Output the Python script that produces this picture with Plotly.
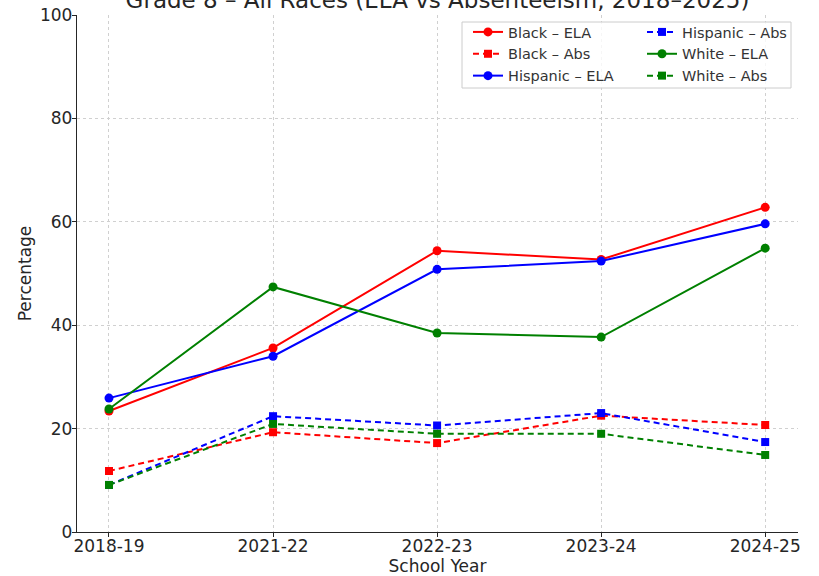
import plotly.graph_objects as go

years = ["2018-19", "2021-22", "2022-23", "2023-24", "2024-25"]
black_ela = [23.4, 35.6, 54.4, 52.7, 62.8]
black_abs = [11.8, 19.3, 17.2, 22.5, 20.7]
hisp_ela = [25.9, 34.0, 50.8, 52.4, 59.6]
hisp_abs = [9.1, 22.4, 20.6, 23.0, 17.4]
white_ela = [23.8, 47.4, 38.5, 37.7, 54.9]
white_abs = [9.1, 20.9, 19.0, 19.0, 14.9]

xi = list(range(len(years)))
FONT = "DejaVu Sans"

series = [
    ("Black – ELA", black_ela, "#ff0000", "solid", "circle", "legend"),
    ("Black – Abs", black_abs, "#ff0000", "dash", "square", "legend"),
    ("Hispanic – ELA", hisp_ela, "#0000ff", "solid", "circle", "legend"),
    ("Hispanic – Abs", hisp_abs, "#0000ff", "dash", "square", "legend2"),
    ("White – ELA", white_ela, "#008000", "solid", "circle", "legend2"),
    ("White – Abs", white_abs, "#008000", "dash", "square", "legend2"),
]

fig = go.Figure()
for name, vals, col, dash, sym, lg in series:
    fig.add_trace(go.Scatter(
        x=xi, y=vals, name=name, mode="lines+markers",
        line=dict(color=col, width=2, dash="6px,4px" if dash == "dash" else "solid"),
        marker=dict(color=col, symbol=sym, size=8 if sym == "square" else 9),
        legend=lg,
    ))

W, H = 819, 576
L, R, T, B = 77, 21, 15, 44
pw, ph = W - L - R, H - T - B

def px_x(p):
    return (p - L) / pw

def px_y(p):
    return (H - B - p) / ph

grid = dict(showgrid=True, gridcolor="#d0d0d0", gridwidth=0.8, griddash="dot")
AX = "#262626"

fig.update_layout(
    width=W, height=H,
    margin=dict(l=L, r=R, t=T, b=B, autoexpand=False),
    paper_bgcolor="white", plot_bgcolor="white",
    font=dict(family=FONT, size=17, color="#262626"),
    title=dict(text="Grade 8 – All Races (ELA vs Absenteeism, 2018–2025)",
               x=0.5, xref="paper", xanchor="center", y=1.0, yanchor="middle", yref="container",
               automargin=False, font=dict(size=23, color="#262626")),
    xaxis=dict(tickmode="array", tickvals=xi, ticktext=years, range=[-0.195, 4.2],
               showline=True, linecolor=AX, linewidth=1.3, mirror=False,
               ticks="outside", ticklen=4, tickcolor=AX, automargin=False,
               ticklabelstandoff=-6,
               title=dict(text="School Year", font=dict(size=17), standoff=14),
               zeroline=False, **grid),
    yaxis=dict(range=[0, 100], tickvals=[0, 20, 40, 60, 80, 100],
               showline=True, linecolor=AX, linewidth=1.3, automargin=False,
               ticks="outside", ticklen=4, tickcolor=AX, ticklabelstandoff=-4,
               title=dict(text="Percentage", font=dict(size=17), standoff=4),
               zeroline=False, **grid),
    legend=dict(x=px_x(468), y=px_y(16), xanchor="left", yanchor="top",
                bgcolor="rgba(0,0,0,0)", borderwidth=0,
                font=dict(size=14.5, color="#333333"), itemwidth=30),
    legend2=dict(x=px_x(642), y=px_y(16), xanchor="left", yanchor="top",
                 bgcolor="rgba(0,0,0,0)", borderwidth=0,
                 font=dict(size=14.5, color="#333333"), itemwidth=30),
    shapes=[dict(type="rect", xref="paper", yref="paper",
                 x0=px_x(462), x1=px_x(791), y0=px_y(88), y1=px_y(22),
                 line=dict(color="#cccccc", width=1), fillcolor="rgba(255,255,255,0.8)",
                 layer="above")],
)

fig.write_html(
    "out.html",
    config={"displayModeBar": False},
    post_script="document.body.style.margin='0';document.body.style.overflow='hidden';",
)
